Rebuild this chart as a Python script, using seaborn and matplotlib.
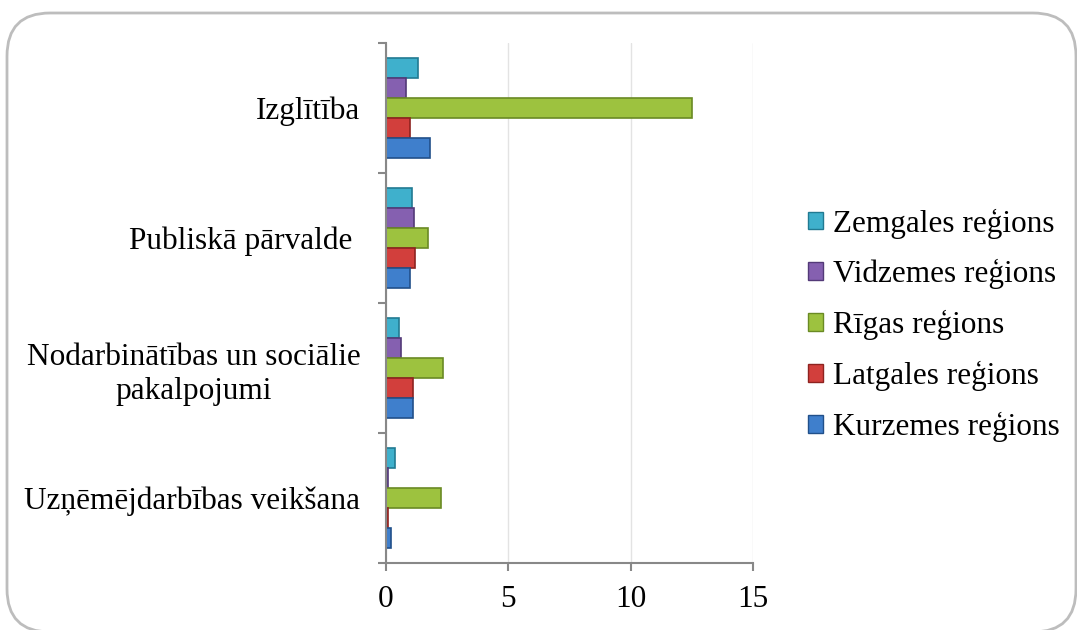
import pandas as pd
import seaborn as sns
import matplotlib.pyplot as plt
from matplotlib.patches import FancyBboxPatch, Patch

# data
categories = ["Izglītība", "Publiskā pārvalde ",
              "Nodarbinātības un sociālie\npakalpojumi",
              "Uzņēmējdarbības veikšana"]
regions = ["Zemgales reģions", "Vidzemes reģions", "Rīgas reģions",
           "Latgales reģions", "Kurzemes reģions"]
zemgale = [1.3, 1.05, 0.55, 0.35]
vidzeme = [0.8, 1.15, 0.6, 0.1]
riga = [12.5, 1.7, 2.35, 2.25]
latgale = [1.0, 1.2, 1.1, 0.1]
kurzeme = [1.8, 1.0, 1.1, 0.2]

colors = ["#3FB0CC", "#8560B0", "#9DC23F", "#D23F3C", "#3F7FCC"]
edges = ["#217A92", "#533A78", "#6A8A24", "#8E2320", "#21508A"]

df = pd.DataFrame({
    "Nozare": categories * 5,
    "Reģions": sum([[r] * 4 for r in regions], []),
    "Vērtība": zemgale + vidzeme + riga + latgale + kurzeme,
})

sns.set_style("white")
plt.rcParams['font.family'] = ['Liberation Serif', 'DejaVu Serif']
plt.rcParams['text.color'] = 'black'
plt.rcParams['xtick.labelcolor'] = 'black'
plt.rcParams['ytick.labelcolor'] = 'black'

fig = plt.figure(figsize=(10.77, 6.3), dpi=100)
ax = fig.add_axes([0.3584, 0.1063, 0.3408, 0.8254])

sns.barplot(data=df, y="Nozare", x="Vērtība", hue="Reģions", order=categories,
            hue_order=regions, palette=colors, orient="h", width=0.77,
            saturation=1, legend=False, ax=ax)

# darker edges per series
for cont, ec in zip(ax.containers, edges):
    for bar in cont:
        bar.set_edgecolor(ec)
        bar.set_linewidth(1.2)

ax.set_xlim(0, 15)
ax.set_ylim(3.5, -0.5)
ax.set_xticks([0, 5, 10, 15])
ax.set_xlabel("")
ax.set_ylabel("")
ax.grid(axis="x", color="#E3E3E3", linewidth=1)
ax.set_axisbelow(True)

for side in ["top", "right"]:
    ax.spines[side].set_visible(False)
for side in ["left", "bottom"]:
    ax.spines[side].set_color("#888888")
    ax.spines[side].set_linewidth(1.5)

ax.set_yticks([-0.5, 0.5, 1.5, 2.5, 3.5], minor=True)
ax.tick_params(axis="y", which="major", length=0, pad=18.5, labelsize=22.5,
               labelcolor="black")
ax.tick_params(axis="y", which="minor", length=6, width=1.5, color="#888888",
               direction="out", left=True)
ax.tick_params(axis="x", length=6, width=1.5, color="#888888", direction="out",
               pad=10, labelsize=22.5, bottom=True, labelcolor="black")
for lbl in ax.get_yticklabels():
    lbl.set_multialignment("center")
    lbl.set_linespacing(1.25)

handles = [Patch(facecolor=c, edgecolor=e, label=r) for c, e, r in zip(colors, edges, regions)]
fig.legend(handles=handles, loc="center left", bbox_to_anchor=(0.750, 0.484),
           frameon=False, fontsize=22.5, handlelength=0.5, handleheight=0.5,
           handletextpad=0.3, labelspacing=0.66, borderaxespad=0, borderpad=0,
           labelcolor="black")

frame = FancyBboxPatch((7 / 1077, -2 / 630), 1069 / 1077, 619 / 630,
                       boxstyle="round,pad=0,rounding_size=0.04",
                       transform=fig.transFigure, facecolor="none",
                       edgecolor="#BDBDBD", linewidth=2, mutation_aspect=1077 / 630)
fig.patches.append(frame)

fig.savefig("out.png", dpi=100)
